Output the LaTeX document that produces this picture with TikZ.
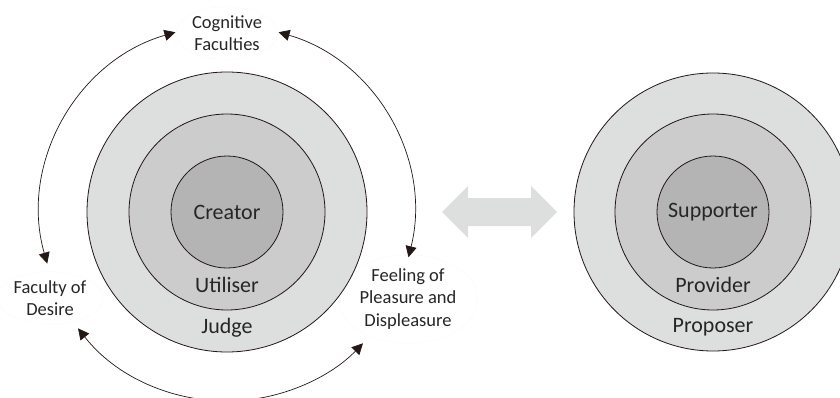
\documentclass[tikz,border=0pt]{standalone}
\usepackage{fontspec}
\setmainfont{Carlito}
\usepackage{xcolor}
\usepackage{tikz}
\usetikzlibrary{shapes,arrows.meta,positioning,calc}

\definecolor{ringout}{RGB}{221,222,222}
\definecolor{ringmid}{RGB}{204,204,204}
\definecolor{ringin}{RGB}{180,180,180}
\definecolor{inkdark}{RGB}{35,24,21}

\begin{document}
\begin{tikzpicture}[x=1pt,y=1pt,every node/.style={font=\fontsize{18.5}{22.3}\selectfont}]
  \tikzstyle{ring} = [circle, draw=inkdark, line width=0.8pt, inner sep=0pt]
  \tikzstyle{role} = [font=\fontsize{22}{26}\selectfont, text=black!85]
  \tikzstyle{faculty} = [ellipse, fill=white, draw=black!2, align=center,
      text=black!85, inner sep=1pt]
  \tikzstyle{cyclearc} = [{Triangle[length=11pt,width=11pt]}-{Triangle[length=11pt,width=11pt]},
      draw=inkdark, line width=0.7pt]

  \useasboundingbox (0,0) rectangle (840,397);

  % Faculties first, so their pale ellipses stay behind the rings
  \node (cognitive) [faculty] at (227,364) {Cognitive\\Faculties};
  \node (desire)    [faculty] at (50,99)   {Faculty of\\Desire};
  \node (feeling)   [faculty] at (408,98)  {Feeling of\\Pleasure and\\Displeasure};

  % Left: three nested rings round one centre, the faculties on a wider circle
  \coordinate (lc) at (227,185);
  \node (judgering) [ring, fill=ringout, minimum size=280pt] at (lc) {};
  \node (utilring)  [ring, fill=ringmid, minimum size=196pt] at (lc) {};
  \node (creatring) [ring, fill=ringin,  minimum size=112pt] at (lc) {};
  \node (creator)  [role] at (lc)      {Creator};
  \node (utiliser) [role] at (227,112) {Utiliser};
  \node (judge)    [role] at (227,69)  {Judge};

  \draw[cyclearc] ($(lc)+(196:187)$) arc[start angle=196, end angle=106, radius=187];
  \draw[cyclearc] ($(lc)+(74:187)$) arc[start angle=74, end angle=-14, radius=187];
  \draw[cyclearc] ($(lc)+(218:189)$) arc[start angle=218, end angle=316, radius=189];

  % Middle: the grey two-headed arrow between both ring sets
  \fill[ringout] (442,185) -- (468,211) -- (468,199) -- (531,199) -- (531,211)
      -- (557,185) -- (531,159) -- (531,171) -- (468,171) -- (468,159) -- cycle;

  % Right: the same rings with the other roles
  \coordinate (rc) at (713,185);
  \node (proposring) [ring, fill=ringout, minimum size=278pt] at (rc) {};
  \node (providring) [ring, fill=ringmid, minimum size=196pt] at (rc) {};
  \node (supporring) [ring, fill=ringin,  minimum size=112pt] at (rc) {};
  \node (supporter) [role] at (rc)      {Supporter};
  \node (provider)  [role] at (713,112) {Provider};
  \node (proposer)  [role] at (713,70)  {Proposer};
\end{tikzpicture}
\end{document}
